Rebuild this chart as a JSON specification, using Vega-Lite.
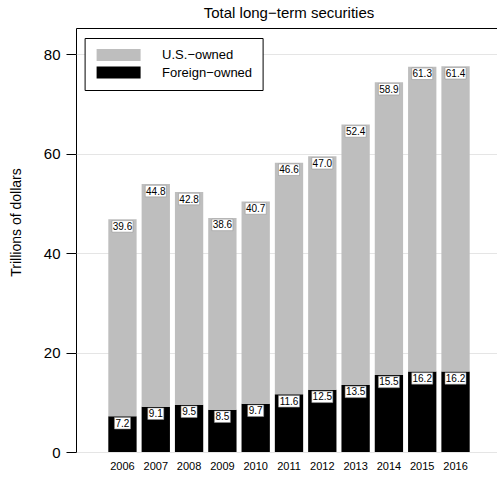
{
  "$schema": "https://vega.github.io/schema/vega-lite/v6.json",
  "autosize": "none",
  "width": 426,
  "height": 424,
  "padding": {"left": 76, "top": 28, "right": 0, "bottom": 26},
  "background": "white",
  "title": {"text": "Total long−term securities", "fontSize": 15, "fontWeight": "normal", "font": "Liberation Sans", "anchor": "middle", "offset": 7, "color": "black"},
  "config": {
    "font": "Liberation Sans",
    "view": {"stroke": "black", "strokeWidth": 1}
  },
  "data": {"values": [
    {"year": "2006", "owner": "Foreign−owned", "value": 7.2},
    {"year": "2006", "owner": "U.S.−owned", "value": 39.6},
    {"year": "2007", "owner": "Foreign−owned", "value": 9.1},
    {"year": "2007", "owner": "U.S.−owned", "value": 44.8},
    {"year": "2008", "owner": "Foreign−owned", "value": 9.5},
    {"year": "2008", "owner": "U.S.−owned", "value": 42.8},
    {"year": "2009", "owner": "Foreign−owned", "value": 8.5},
    {"year": "2009", "owner": "U.S.−owned", "value": 38.6},
    {"year": "2010", "owner": "Foreign−owned", "value": 9.7},
    {"year": "2010", "owner": "U.S.−owned", "value": 40.7},
    {"year": "2011", "owner": "Foreign−owned", "value": 11.6},
    {"year": "2011", "owner": "U.S.−owned", "value": 46.6},
    {"year": "2012", "owner": "Foreign−owned", "value": 12.5},
    {"year": "2012", "owner": "U.S.−owned", "value": 47.0},
    {"year": "2013", "owner": "Foreign−owned", "value": 13.5},
    {"year": "2013", "owner": "U.S.−owned", "value": 52.4},
    {"year": "2014", "owner": "Foreign−owned", "value": 15.5},
    {"year": "2014", "owner": "U.S.−owned", "value": 58.9},
    {"year": "2015", "owner": "Foreign−owned", "value": 16.2},
    {"year": "2015", "owner": "U.S.−owned", "value": 61.3},
    {"year": "2016", "owner": "Foreign−owned", "value": 16.2},
    {"year": "2016", "owner": "U.S.−owned", "value": 61.4}
  ]},
  "transform": [
    {"stack": "value", "groupby": ["year"], "sort": [{"field": "owner", "order": "ascending"}], "as": ["v0", "v1"]}
  ],
  "encoding": {
    "x": {
      "field": "year", "type": "ordinal",
      "scale": {"paddingInner": 0.15, "paddingOuter": 0.97},
      "axis": {"title": null, "ticks": false, "domain": false, "labelAngle": 0, "labelFontSize": 11, "labelPadding": 8, "labelColor": "black", "grid": false}
    }
  },
  "layer": [
    {
      "mark": {"type": "bar"},
      "encoding": {
        "y": {
          "field": "v0", "type": "quantitative",
          "scale": {"domain": [0, 85.3], "nice": false},
          "axis": {"title": "Trillions of dollars", "titleFontSize": 14, "titleFontWeight": "normal", "titleColor": "black", "titlePadding": 20, "titleY": 194,
                   "values": [0, 20, 40, 60, 80], "labelFontSize": 15, "labelColor": "black", "labelPadding": 6,
                   "tickSize": 10, "tickColor": "black", "tickWidth": 1, "domain": false,
                   "grid": true, "gridColor": "#e5e5e5", "gridWidth": 1}
        },
        "y2": {"field": "v1"},
        "color": {
          "field": "owner", "type": "nominal",
          "scale": {"domain": ["U.S.−owned", "Foreign−owned"], "range": ["#bebebe", "#000000"]},
          "legend": {
            "title": null, "orient": "none", "legendX": 8.6, "legendY": 10,
            "direction": "vertical",
            "fillColor": "white", "strokeColor": "black", "cornerRadius": 0,
            "padding": 10.5,
            "symbolType": "M-3.667,-1H3.667V1H-3.667Z", "symbolSize": 144, "symbolStrokeWidth": 0,
            "symbolOffset": 17, "labelOffset": 37, "labelFontSize": 13, "labelColor": "black",
            "rowPadding": 3.5
          }
        }
      }
    },
    {
      "transform": [{"filter": "datum.value >= 10"}],
      "mark": {"type": "point", "shape": "M-1,-0.548H1V0.548H-1Z", "size": 441, "filled": true, "fill": "white", "stroke": "#8c8c8c", "strokeWidth": 0.5, "opacity": 1, "yOffset": 7},
      "encoding": {"y": {"field": "v1", "type": "quantitative"}}
    },
    {
      "transform": [{"filter": "datum.value < 10"}],
      "mark": {"type": "point", "shape": "M-1,-0.72H1V0.72H-1Z", "size": 256, "filled": true, "fill": "white", "stroke": "#8c8c8c", "strokeWidth": 0.5, "opacity": 1, "yOffset": 7},
      "encoding": {"y": {"field": "v1", "type": "quantitative"}}
    },
    {
      "mark": {"type": "text", "fontSize": 10, "baseline": "middle", "align": "center", "color": "black", "yOffset": 7.5},
      "encoding": {
        "y": {"field": "v1", "type": "quantitative"},
        "text": {"field": "value", "type": "quantitative", "format": ".1f"}
      }
    }
  ]
}
